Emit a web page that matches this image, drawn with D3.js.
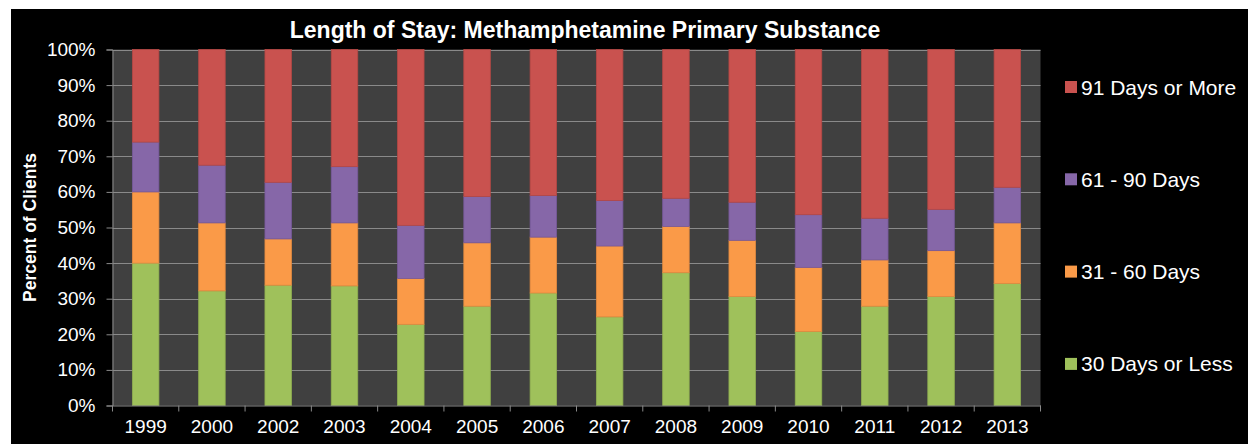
<!DOCTYPE html>
<html>
<head>
<meta charset="utf-8">
<script src="https://cdn.jsdelivr.net/npm/d3@7/dist/d3.min.js"></script>
<style>
  html, body { margin: 0; padding: 0; background: #ffffff; }
  svg { display: block; }
  text { font-family: "Liberation Sans", Arial, sans-serif; fill: #ffffff; }
</style>
</head>
<body>
<svg id="chart" width="1248" height="444"></svg>
<script>
// Length of stay by year, percent of clients per band
const years = ["1999","2000","2002","2003","2004","2005","2006","2007","2008","2009","2010","2011","2012","2013"];
const days30OrLess = [40.0, 32.2, 33.8, 33.6, 22.8, 27.9, 31.6, 24.9, 37.3, 30.6, 20.8, 27.9, 30.6, 34.3];
const days31to60   = [20.0, 19.1, 13.0, 17.7, 12.9, 17.8, 15.7, 19.9, 13.0, 15.8, 18.0, 13.0, 12.9, 17.0];
const days61to90   = [14.0, 16.2, 15.9, 15.8, 14.9, 13.0, 11.7, 12.8,  7.9, 10.7, 14.8, 11.7, 11.6, 10.0];
const days91OrMore = [26.0, 32.5, 37.3, 32.9, 49.4, 41.3, 41.0, 42.4, 41.8, 42.9, 46.4, 47.4, 44.9, 38.7];
const seriesNames = ["30 Days or Less", "31 - 60 Days", "61 - 90 Days", "91 Days or More"];
const seriesColors = ["#9fc15b", "#fa9a48", "#8667a8", "#c9524f"];
const seriesStrokes = ["#8fae50", "#e38a40", "#77599a", "#b54845"];
const yTicks = [0, 0.1, 0.2, 0.3, 0.4, 0.5, 0.6, 0.7, 0.8, 0.9, 1.0];

const svg = d3.select("#chart");
const W = 1248, H = 444;
const plot = { left: 112.5, right: 1040.5, top: 49.5, bottom: 405.5 };

// black chart frame
svg.append("rect").attr("x", 11).attr("y", 9).attr("width", W - 11).attr("height", H - 9).attr("fill", "#000000");

const rows = years.map((y, i) => ({
  year: y,
  s0: days30OrLess[i], s1: days31to60[i], s2: days61to90[i], s3: days91OrMore[i]
}));
const keys = ["s0", "s1", "s2", "s3"];
// each bar is shown as a share of its own total
const stack = d3.stack().keys(keys).offset(d3.stackOffsetExpand);
const layers = stack(rows);

const x = d3.scaleBand().domain(years).range([plot.left, plot.right]).paddingInner(0.6).paddingOuter(0.3);
const y = d3.scaleLinear().domain([0, 1]).range([plot.bottom, plot.top]);

// plot background
svg.append("rect")
  .attr("x", plot.left).attr("y", plot.top)
  .attr("width", plot.right - plot.left).attr("height", plot.bottom - plot.top)
  .attr("fill", "#404040");

// horizontal gridlines
svg.append("g").selectAll("line").data(yTicks.slice(1)).join("line")
  .attr("x1", plot.left).attr("x2", plot.right)
  .attr("y1", d => Math.round(y(d)) + 0.5).attr("y2", d => Math.round(y(d)) + 0.5)
  .attr("stroke", "#8a8a8a").attr("stroke-width", 1);

// stacked bars
svg.append("g").selectAll("g").data(layers).join("g")
  .attr("fill", (d, i) => seriesColors[i])
  .attr("stroke", (d, i) => seriesStrokes[i])
  .attr("stroke-width", 0.8)
  .selectAll("rect").data(d => d).join("rect")
  .attr("x", d => x(d.data.year))
  .attr("width", x.bandwidth())
  .attr("y", d => y(d[1]))
  .attr("height", d => y(d[0]) - y(d[1]));

// y axis
const yAxis = svg.append("g")
  .attr("transform", `translate(${plot.left},0)`)
  .call(d3.axisLeft(y).tickValues(yTicks).tickFormat(d3.format(".0%")).tickSize(6).tickPadding(11));
yAxis.select(".domain").attr("stroke", "#8a8a8a");
yAxis.selectAll(".tick line").attr("stroke", "#8a8a8a");
yAxis.selectAll(".tick text")
  .attr("fill", "#ffffff").attr("font-size", 19)
  .attr("font-family", "Liberation Sans, Arial, sans-serif");

// x axis
const xAxis = svg.append("g")
  .attr("transform", `translate(0,${plot.bottom})`)
  .call(d3.axisBottom(x).tickSize(0).tickPadding(14));
xAxis.select(".domain").attr("stroke", "#8a8a8a");
xAxis.selectAll(".tick text")
  .attr("fill", "#ffffff").attr("font-size", 19)
  .attr("font-family", "Liberation Sans, Arial, sans-serif");

// tick marks between categories
const step = x.step();
const bounds = d3.range(years.length + 1).map(i => plot.left + i * step);
svg.append("g").selectAll("line").data(bounds).join("line")
  .attr("x1", d => d).attr("x2", d => d)
  .attr("y1", plot.bottom).attr("y2", plot.bottom + 6)
  .attr("stroke", "#8a8a8a");

// title
svg.append("text")
  .attr("x", 585).attr("y", 38)
  .attr("text-anchor", "middle")
  .attr("font-size", 23).attr("font-weight", "bold")
  .text("Length of Stay: Methamphetamine Primary Substance");

// y axis title
svg.append("text")
  .attr("transform", `translate(36,${(plot.top + plot.bottom) / 2}) rotate(-90)`)
  .attr("text-anchor", "middle")
  .attr("font-size", 17.5).attr("font-weight", "bold")
  .text("Percent of Clients");

// legend, top entry is the top segment
const legendOrder = [3, 2, 1, 0];
const legend = svg.append("g").selectAll("g").data(legendOrder).join("g")
  .attr("transform", (d, i) => `translate(1065,${87 + i * 92.3})`);
legend.append("rect")
  .attr("x", 0).attr("y", -6).attr("width", 12).attr("height", 12)
  .attr("fill", d => seriesColors[d]);
legend.append("text")
  .attr("x", 16).attr("y", 0).attr("dy", "0.36em")
  .attr("font-size", 21)
  .text(d => seriesNames[d]);
</script>
</body>
</html>
